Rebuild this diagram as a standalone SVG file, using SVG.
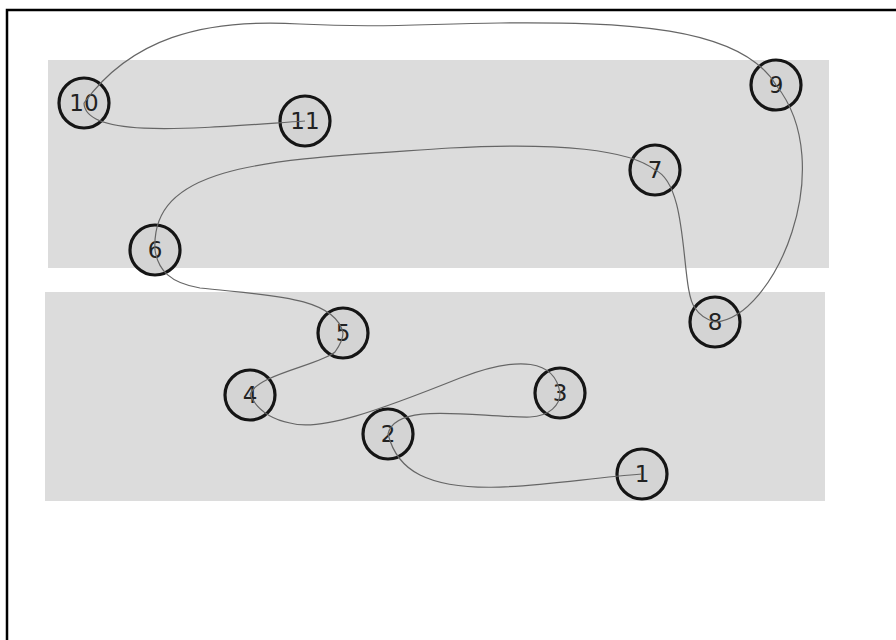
<svg xmlns="http://www.w3.org/2000/svg" width="896" height="640" viewBox="0 0 896 640">
<style>
.grp{fill:#dcdcdc;stroke:none}
.node circle{fill:#d4d4d4;stroke:#151515;stroke-width:3.2}
.node text{font-family:"DejaVu Sans",Verdana,sans-serif;font-size:23px;fill:#222222;text-anchor:middle;dominant-baseline:central}
.edge{fill:none;stroke:#666666;stroke-width:1.2}
</style>
<rect x="0" y="0" width="896" height="640" fill="#ffffff"/>
<rect x="7" y="10" width="900" height="640" fill="none" stroke="#000" stroke-width="2.5"/>
<rect class="grp" x="48" y="60" width="781" height="208"/>
<rect class="grp" x="45" y="292" width="780" height="209"/>
<g id="node10" class="node"><circle cx="84" cy="103" r="25"/><text x="84" y="103">10</text></g>
<g id="node11" class="node"><circle cx="305" cy="121" r="25"/><text x="305" y="121">11</text></g>
<g id="node9" class="node"><circle cx="776" cy="85" r="25"/><text x="776" y="85">9</text></g>
<g id="node7" class="node"><circle cx="655" cy="170" r="25"/><text x="655" y="170">7</text></g>
<g id="node6" class="node"><circle cx="155" cy="250" r="25"/><text x="155" y="250">6</text></g>
<g id="node8" class="node"><circle cx="715" cy="322" r="25"/><text x="715" y="322">8</text></g>
<g id="node5" class="node"><circle cx="343" cy="333" r="25"/><text x="343" y="333">5</text></g>
<g id="node4" class="node"><circle cx="250" cy="395" r="25"/><text x="250" y="395">4</text></g>
<g id="node3" class="node"><circle cx="560" cy="393" r="25"/><text x="560" y="393">3</text></g>
<g id="node2" class="node"><circle cx="388" cy="434" r="25"/><text x="388" y="434">2</text></g>
<g id="node1" class="node"><circle cx="642" cy="474" r="25"/><text x="642" y="474">1</text></g>
<g id="connectors">
<path class="edge" d="M642,474 C560,480 470,500 420,475 C400,465 392,450 388,434"/>
<path class="edge" d="M388,434 C395,400 480,418 530,417 C550,416 560,405 560,393"/>
<path class="edge" d="M560,393 C555,360 520,355 460,378 C380,410 320,432 290,423 C265,418 255,405 250,395"/>
<path class="edge" d="M250,395 C255,375 320,365 335,352 C340,345 343,340 343,333"/>
<path class="edge" d="M343,333 C335,295 260,295 200,288 C170,283 158,270 155,250"/>
<path class="edge" d="M155,250 C150,160 280,160 450,148 C560,142 630,150 655,170"/>
<path class="edge" d="M655,170 C690,185 680,290 695,308 C700,316 708,320 715,322"/>
<path class="edge" d="M715,322 C775,318 840,165 776,85"/>
<path class="edge" d="M776,85 C740,25 620,22 500,23 C420,24 380,28 300,24 C200,18 130,40 84,103"/>
<path class="edge" d="M84,103 C85,140 200,128 305,121"/>
</g>
</svg>
